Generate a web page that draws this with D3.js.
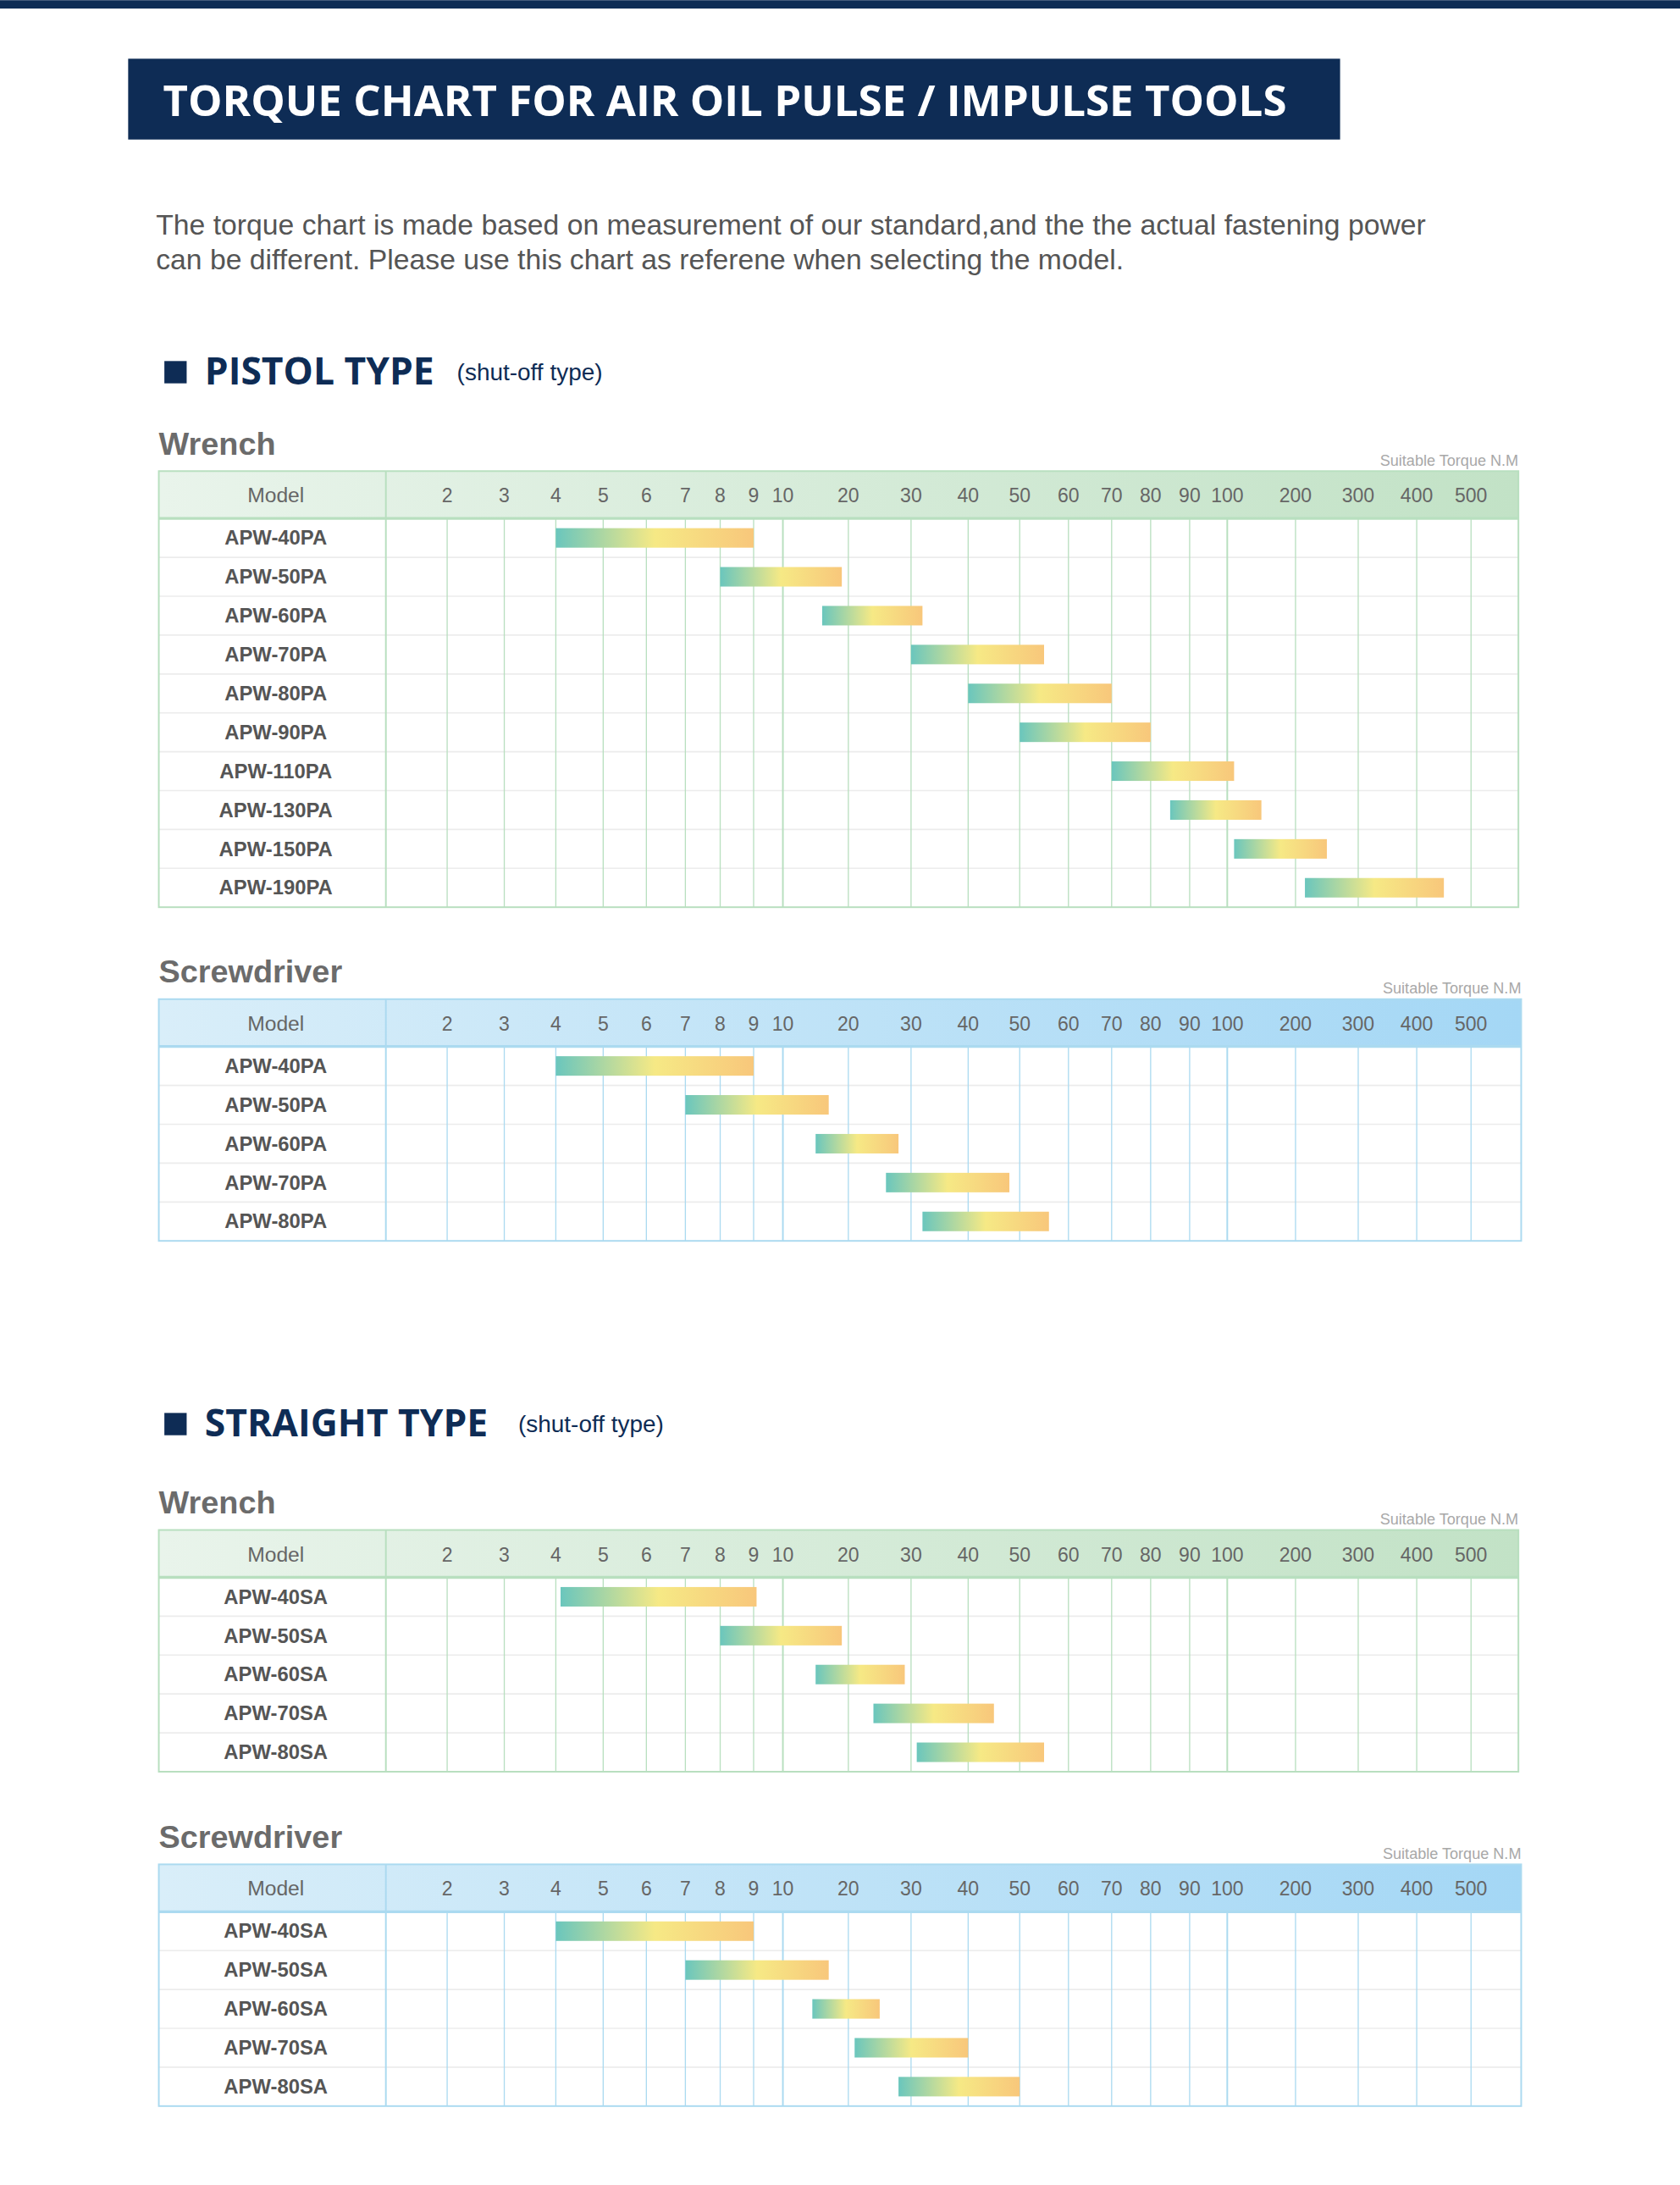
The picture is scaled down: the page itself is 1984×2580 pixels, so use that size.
<!DOCTYPE html>
<html lang="en">
<head>
<meta charset="UTF-8">
<title>Torque Chart</title>
<script src="https://d3js.org/d3.v7.min.js"></script>
<style>
  body { margin: 0; background: #fff; }
  svg { display: block; }
</style>
</head>
<body>
<div id="chart"></div>
<script>
// tick labels on the torque axis (N.M)
const ticks = [2, 3, 4, 5, 6, 7, 8, 9, 10, 20, 30, 40, 50, 60, 70, 80, 90, 100, 200, 300, 400, 500];

// torque ranges [min, max] per model
const pistolWrenchModels = ["APW-40PA", "APW-50PA", "APW-60PA", "APW-70PA", "APW-80PA", "APW-90PA", "APW-110PA", "APW-130PA", "APW-150PA", "APW-190PA"];
const pistolWrenchRanges = [[4, 9], [8, 19], [16, 32], [30, 55], [40, 70], [50, 80], [70, 110], [85, 150], [110, 250], [215, 450]];

const pistolDriverModels = ["APW-40PA", "APW-50PA", "APW-60PA", "APW-70PA", "APW-80PA"];
const pistolDriverRanges = [[4, 9], [7, 17], [15, 28], [26, 48], [32, 56]];

const straightWrenchModels = ["APW-40SA", "APW-50SA", "APW-60SA", "APW-70SA", "APW-80SA"];
const straightWrenchRanges = [[4.1, 9.1], [8, 19], [15, 29], [24, 45], [31, 55]];

const straightDriverModels = ["APW-40SA", "APW-50SA", "APW-60SA", "APW-70SA", "APW-80SA"];
const straightDriverRanges = [[4, 9], [7, 17], [14.5, 25], [21, 40], [28, 50]];

const W = 1206, H = 1568;
const svg = d3.select("#chart").append("svg")
    .attr("width", 1984).attr("height", 2580)
    .attr("viewBox", `0 0 ${W} ${H}`);

const defs = svg.append("defs");
function grad(id, stops) {
    const g = defs.append("linearGradient").attr("id", id).attr("x1", "0").attr("x2", "1");
    stops.forEach(s => g.append("stop").attr("offset", s[0]).attr("stop-color", s[1]));
}
grad("barGrad", [[0, "#6ac6bd"], [0.5, "#f6e985"], [1, "#f8c77b"]]);
grad("greenHead", [[0, "#e9f4eb"], [1, "#c2e2c6"]]);
grad("blueHead", [[0, "#d9eef9"], [1, "#a4d7f5"]]);

// top band + title
svg.append("rect").attr("x", 0).attr("y", 0).attr("width", W).attr("height", 6).attr("fill", "#0e2c55");
svg.append("rect").attr("x", 92).attr("y", 42).attr("width", 870).attr("height", 58).attr("fill", "#0e2c55");
svg.append("text").attr("x", 117).attr("y", 83).attr("fill", "#fff")
    .attr("font-family", "'Open Sans', 'Noto Sans', sans-serif").attr("font-weight", 700).attr("font-size", 31)
    .text("TORQUE CHART FOR AIR OIL PULSE / IMPULSE TOOLS");

const para = svg.append("text").attr("font-family", "'Liberation Sans', Arial, sans-serif")
    .attr("font-size", 20.5).attr("fill", "#555");
para.append("tspan").attr("x", 112).attr("y", 168)
    .text("The torque chart is made based on measurement of our standard,and the the actual fastening power");
para.append("tspan").attr("x", 112).attr("y", 193)
    .text("can be different. Please use this chart as referene when selecting the model.");

function sectionHead(y, title, subX) {
    svg.append("rect").attr("x", 118).attr("y", y - 17).attr("width", 16).attr("height", 16).attr("fill", "#0e2c55");
    svg.append("text").attr("x", 147).attr("y", y).attr("fill", "#0e2c55")
        .attr("font-family", "'Open Sans', 'Noto Sans', sans-serif").attr("font-weight", 700).attr("font-size", 27)
        .text(title);
    svg.append("text").attr("x", subX).attr("y", y - 3).attr("fill", "#0e2c55")
        .attr("font-family", "'Liberation Sans', Arial, sans-serif").attr("font-size", 17)
        .text("(shut-off type)");
}
sectionHead(276, "PISTOL TYPE", 328);
sectionHead(1031, "STRAIGHT TYPE", 372);

// piecewise torque scale (grid spacing narrows within each decade)
const gaps = [41, 37, 34, 31, 28, 25, 24, 21, 47, 45, 41, 37, 35, 31, 28, 28, 27, 49, 45, 42, 39];
const tickPos = [321];
gaps.forEach(g => tickPos.push(tickPos[tickPos.length - 1] + g));
const x = d3.scaleLinear().domain(ticks).range(tickPos);

function table(top, label, models, ranges, blue) {
    const left = 114, labelW = 163, right = blue ? 1092 : 1090, headH = 34, rowH = 27.9;
    const line = blue ? "#abdaf0" : "#b8dfbf";
    const g = svg.append("g");
    g.append("text").attr("x", left).attr("y", top - 12).attr("fill", "#6b6b6b")
        .attr("font-family", "'Liberation Sans', Arial, sans-serif").attr("font-weight", 700).attr("font-size", 23)
        .text(label);
    g.append("text").attr("x", right).attr("y", top - 4).attr("text-anchor", "end").attr("fill", "#a8a8a8")
        .attr("font-family", "'Liberation Sans', Arial, sans-serif").attr("font-size", 11)
        .text("Suitable Torque N.M");

    const bodyBottom = top + headH + rowH * models.length;
    g.append("rect").attr("x", left).attr("y", top).attr("width", right - left).attr("height", headH)
        .attr("fill", `url(#${blue ? "blueHead" : "greenHead"})`);
    const y = d3.scaleBand().domain(models).range([top + headH, bodyBottom]);

    // row separators
    g.selectAll(".sep").data(models.slice(1)).join("line")
        .attr("x1", left).attr("x2", right)
        .attr("y1", d => y(d)).attr("y2", d => y(d))
        .attr("stroke", "#ececec").attr("stroke-width", 1);
    // vertical grid
    g.selectAll(".grid").data(ticks).join("line")
        .attr("x1", d => x(d)).attr("x2", d => x(d))
        .attr("y1", top + headH).attr("y2", bodyBottom)
        .attr("stroke", line).attr("stroke-width", d => (d === 10 || d === 100) ? 1.2 : 0.8);
    // borders
    g.append("rect").attr("x", left).attr("y", top).attr("width", right - left).attr("height", bodyBottom - top)
        .attr("fill", "none").attr("stroke", line).attr("stroke-width", 1.2);
    g.append("line").attr("x1", left).attr("x2", right).attr("y1", top + headH).attr("y2", top + headH)
        .attr("stroke", line).attr("stroke-width", 2);
    g.append("line").attr("x1", left + labelW).attr("x2", left + labelW).attr("y1", top).attr("y2", bodyBottom)
        .attr("stroke", line).attr("stroke-width", 1.2);

    // header labels
    g.append("text").attr("x", left + 84).attr("y", top + headH / 2 + 5.5).attr("text-anchor", "middle")
        .attr("fill", "#666").attr("font-family", "'Liberation Sans', Arial, sans-serif").attr("font-size", 15)
        .text("Model");
    g.selectAll(".tick").data(ticks).join("text")
        .attr("x", d => x(d)).attr("y", top + headH / 2 + 5.5).attr("text-anchor", "middle")
        .attr("fill", "#666").attr("font-family", "'Liberation Sans', Arial, sans-serif").attr("font-size", 14)
        .text(d => d);

    // model names
    g.selectAll(".model").data(models).join("text")
        .attr("x", left + 84).attr("y", d => y(d) + y.bandwidth() / 2 + 5).attr("text-anchor", "middle")
        .attr("fill", "#555").attr("font-family", "'Liberation Sans', Arial, sans-serif").attr("font-weight", 700)
        .attr("font-size", 14.5).text(d => d);

    // torque bars
    g.selectAll(".bar").data(models.map((m, i) => ({ m, r: ranges[i] }))).join("rect")
        .attr("x", d => x(d.r[0])).attr("width", d => x(d.r[1]) - x(d.r[0]))
        .attr("y", d => y(d.m) + y.bandwidth() / 2 - 7).attr("height", 14)
        .attr("fill", "url(#barGrad)");
}

table(338, "Wrench", pistolWrenchModels, pistolWrenchRanges, false);
table(717, "Screwdriver", pistolDriverModels, pistolDriverRanges, true);
table(1098, "Wrench", straightWrenchModels, straightWrenchRanges, false);
table(1338, "Screwdriver", straightDriverModels, straightDriverRanges, true);
</script>
</body>
</html>
